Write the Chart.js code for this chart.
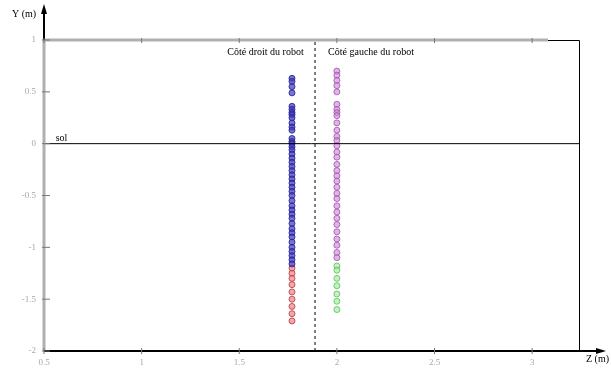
<!DOCTYPE html>
<html>
<head>
<meta charset="utf-8">
<script src="https://cdn.jsdelivr.net/npm/chart.js@4"></script>
<style>
  html, body { margin: 0; padding: 0; background: #fff; }
  #wrap { width: 611px; height: 373px; position: relative; }
</style>
</head>
<body>
<div id="wrap"><canvas id="c"></canvas></div>
<script>
// Z position of each side's column (m)
const rightZ = 1.77;
const leftZ = 2.0;
const splitZ = 1.888;

// Y values (m), right side of robot: blue above, red below
const blueY = [0.63, 0.6, 0.55, 0.49, 0.36, 0.33, 0.3, 0.28, 0.25, 0.2, 0.16, 0.13, 0.05, 0.02, 0,
  -0.03, -0.06, -0.1, -0.14, -0.18, -0.22, -0.26, -0.3, -0.34, -0.38, -0.42, -0.46, -0.5, -0.55,
  -0.6, -0.64, -0.68, -0.72, -0.77, -0.82, -0.86, -0.9, -0.95, -1.0, -1.04, -1.08, -1.12, -1.16];
const redY = [-1.2, -1.25, -1.3, -1.36, -1.43, -1.5, -1.57, -1.64, -1.71];

// left side of robot: pink above, green below
const pinkY = [0.7, 0.66, 0.61, 0.56, 0.5, 0.38, 0.33, 0.3, 0.27, 0.2, 0.13, 0.07, 0.03, -0.02,
  -0.08, -0.13, -0.2, -0.26, -0.31, -0.36, -0.42, -0.48, -0.53, -0.6, -0.66, -0.72, -0.78, -0.85,
  -0.92, -0.98, -1.05, -1.1];
const greenY = [-1.18, -1.22, -1.3, -1.37, -1.45, -1.52, -1.6];

const xTicks = [0.5, 1, 1.5, 2, 2.5, 3];
const yTicks = [-2, -1.5, -1, -0.5, 0, 0.5, 1];
const xMin = 0.5, xMax = 3.24;
const yMin = -2, yMax = 1;

const pts = (z, ys) => ys.map((y) => ({ x: z, y }));
const serif = "'Liberation Serif', 'DejaVu Serif', serif";

const marker = (color, fill) => ({
  type: "scatter",
  pointStyle: "circle",
  pointRadius: 3,
  borderWidth: 1,
  borderColor: color,
  backgroundColor: fill,
});

// frame, arrows and texts
const decor = {
  id: "decor",
  afterDraw(chart) {
    const { ctx, chartArea: a, scales } = chart;
    const xs = scales.x, ys = scales.y;
    ctx.save();
    // grey top + left edges
    ctx.strokeStyle = "#b0b0b0";
    ctx.lineWidth = 3;
    ctx.beginPath();
    ctx.moveTo(a.left, a.bottom);
    ctx.lineTo(a.left, a.top);
    ctx.lineTo(548, a.top);
    ctx.stroke();
    // black edges
    ctx.strokeStyle = "#000";
    ctx.lineWidth = 1;
    ctx.beginPath();
    ctx.moveTo(548, a.top + 0.5);
    ctx.lineTo(a.right + 0.5, a.top + 0.5);
    ctx.lineTo(a.right + 0.5, a.bottom);
    ctx.stroke();
    ctx.lineWidth = 2;
    ctx.beginPath();
    ctx.moveTo(a.left, a.bottom);
    ctx.lineTo(a.right + 20, a.bottom);
    ctx.stroke();
    ctx.beginPath();
    ctx.moveTo(a.left, a.top);
    ctx.lineTo(a.left, 10);
    ctx.stroke();
    // arrow heads
    ctx.fillStyle = "#000";
    ctx.beginPath();
    ctx.moveTo(a.left, 4);
    ctx.lineTo(a.left - 3, 14);
    ctx.lineTo(a.left + 3, 14);
    ctx.fill();
    ctx.beginPath();
    ctx.moveTo(a.right + 27, a.bottom);
    ctx.lineTo(a.right + 17, a.bottom - 3);
    ctx.lineTo(a.right + 17, a.bottom + 3);
    ctx.fill();
    // tick marks
    ctx.strokeStyle = "#777";
    ctx.lineWidth = 1;
    xTicks.forEach((v) => {
      const px = xs.getPixelForValue(v);
      ctx.beginPath();
      ctx.moveTo(px, a.bottom - 3);
      ctx.lineTo(px, a.bottom + 3);
      ctx.moveTo(px, a.top - 2);
      ctx.lineTo(px, a.top + 3);
      ctx.stroke();
    });
    yTicks.forEach((v) => {
      const py = ys.getPixelForValue(v);
      ctx.beginPath();
      ctx.moveTo(a.left - 2, py);
      ctx.lineTo(a.left + 6, py);
      ctx.stroke();
    });
    // texts
    ctx.fillStyle = "#000";
    ctx.font = `10px ${serif}`;
    ctx.textBaseline = "alphabetic";
    ctx.textAlign = "left";
    ctx.fillText("Y (m)", 12, 17);
    ctx.fillText("Z (m)", 586, 362);
    ctx.fillText("sol", xs.getPixelForValue(0.56), ys.getPixelForValue(0.03));
    ctx.fillText("Côté gauche du robot", xs.getPixelForValue(1.955), ys.getPixelForValue(0.86));
    ctx.textAlign = "right";
    ctx.fillText("Côté droit du robot", xs.getPixelForValue(1.83), ys.getPixelForValue(0.86));
    ctx.restore();
  },
};

new Chart(document.getElementById("c"), {
  type: "scatter",
  data: {
    datasets: [
      {
        type: "line",
        data: [{ x: xMin, y: 0 }, { x: xMax, y: 0 }],
        borderColor: "#000",
        borderWidth: 1,
        pointRadius: 0,
      },
      {
        type: "line",
        data: [{ x: splitZ, y: yMin }, { x: splitZ, y: yMax }],
        borderColor: "#000",
        borderWidth: 1,
        borderDash: [3, 3],
        pointRadius: 0,
      },
      { ...marker("rgba(40,30,150,0.85)", "rgba(60,60,190,0.7)"), data: pts(rightZ, blueY) },
      { ...marker("rgba(190,60,70,0.85)", "rgba(230,110,110,0.6)"), data: pts(rightZ, redY) },
      { ...marker("rgba(160,80,170,0.8)", "rgba(205,130,215,0.6)"), data: pts(leftZ, pinkY) },
      { ...marker("rgba(90,190,90,0.8)", "rgba(150,235,150,0.6)"), data: pts(leftZ, greenY) },
    ],
  },
  options: {
    responsive: true,
    maintainAspectRatio: false,
    animation: false,
    layout: { padding: { top: 40, right: 32, left: 0, bottom: 0 } },
    plugins: { legend: { display: false }, tooltip: { enabled: false } },
    scales: {
      x: {
        type: "linear",
        min: xMin,
        max: xMax,
        grid: { display: false, drawTicks: false },
        border: { display: false },
        afterBuildTicks: (s) => { s.ticks = xTicks.map((value) => ({ value })); },
        afterFit: (s) => { s.height = 22; },
        ticks: {
          color: "#a8a8a8",
          padding: 6,
          maxRotation: 0,
          font: { family: serif, size: 9 },
          callback: (v) => String(v),
        },
      },
      y: {
        type: "linear",
        min: yMin,
        max: yMax,
        grid: { display: false, drawTicks: false },
        border: { display: false },
        afterBuildTicks: (s) => { s.ticks = yTicks.map((value) => ({ value })); },
        afterFit: (s) => { s.width = 44; },
        ticks: {
          color: "#a8a8a8",
          padding: 8,
          font: { family: serif, size: 9 },
          callback: (v) => String(v),
        },
      },
    },
  },
  plugins: [decor],
});
</script>
</body>
</html>
